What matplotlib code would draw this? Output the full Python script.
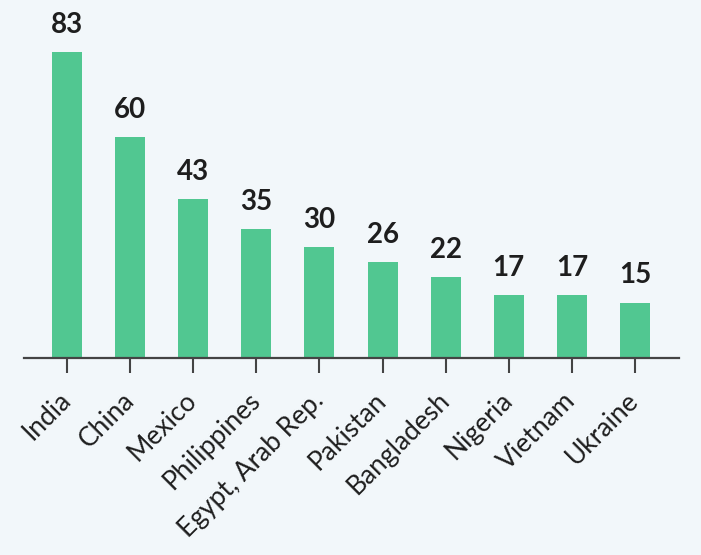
import matplotlib
matplotlib.use("Agg")
import matplotlib.pyplot as plt

countries = ["India", "China", "Mexico", "Philippines", "Egypt, Arab Rep.",
             "Pakistan", "Bangladesh", "Nigeria", "Vietnam", "Ukraine"]
values = [83, 60, 43, 35, 30, 26, 22, 17, 17, 15]

BG = "#F2F7FA"
BAR = "#51C791"
AXIS = "#444444"
TEXT = "#1E1E1E"

plt.rcParams["font.family"] = ["Lato", "DejaVu Sans"]

fig = plt.figure(figsize=(7.01, 5.55), dpi=100, facecolor=BG)
ax = fig.add_axes([24 / 701, (555 - 357.7) / 555, (679 - 24) / 701, 357.7 / 555])
ax.set_facecolor(BG)

x = list(range(len(countries)))
ax.bar(x, values, width=0.475, color=BAR, zorder=2)

# value labels above bars
for xi, v in zip(x, values):
    ax.annotate(str(v), (xi, v), xytext=(0, 13.7), textcoords="offset points",
                ha="center", va="baseline", fontsize=20, fontweight="bold",
                color=TEXT)

ax.set_xlim(-0.681, 9.697)
ax.set_ylim(0, 357.7 / 3.68)

for side in ["top", "right", "left"]:
    ax.spines[side].set_visible(False)
ax.spines["bottom"].set_color(AXIS)
ax.spines["bottom"].set_linewidth(1.6)
ax.set_yticks([])

ax.set_xticks(x)
ax.set_xticklabels(countries, rotation=45, ha="right", va="center",
                   rotation_mode="anchor", fontsize=19, color=TEXT)
ax.tick_params(axis="x", length=10.8, width=1.5, color=AXIS, pad=17)

fig.savefig("out.png", dpi=100, facecolor=BG)
